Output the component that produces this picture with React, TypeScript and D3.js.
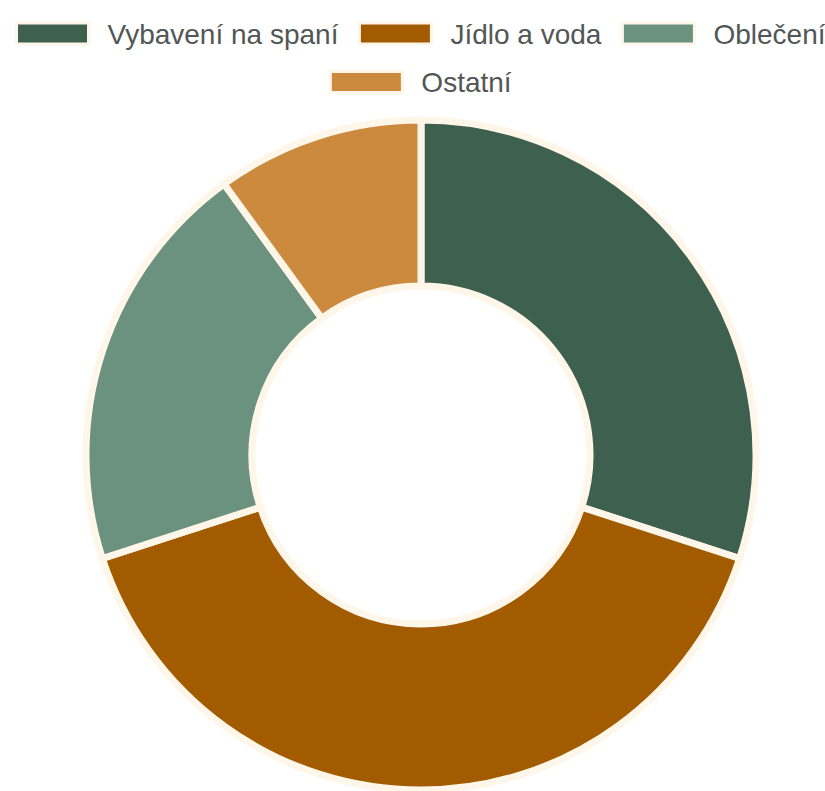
import { useEffect, useRef } from 'react';
import * as d3 from 'd3';

const categories = ['Vybavení na spaní', 'Jídlo a voda', 'Oblečení', 'Ostatní'];
const values = [30, 40, 20, 10];
const colors = ['#3e604f', '#a35b00', '#6b917f', '#cb8a3d'];
const legendRows = [[0, 1, 2], [3]];

const App: React.FC = () => {
  const svgRef = useRef<SVGSVGElement>(null);

  const width = 825;
  const height = 791;
  const cx = 421;
  const cy = 455;
  const outer = 335;
  const inner = 169;
  const border = '#fff6ea';

  useEffect(() => {
    if (!svgRef.current) return;
    const svg = d3.select(svgRef.current);
    svg.selectAll('*').remove();

    // doughnut
    const pie = d3.pie<number>().sort(null).value(d => d);
    const arc = d3.arc<d3.PieArcDatum<number>>().innerRadius(inner).outerRadius(outer);

    svg.append('g')
      .attr('transform', `translate(${cx},${cy})`)
      .selectAll('path')
      .data(pie(values))
      .enter()
      .append('path')
      .attr('d', arc)
      .attr('fill', (d, i) => colors[i])
      .attr('stroke', border)
      .attr('stroke-width', 7)
      .attr('stroke-linejoin', 'round');

    // legend
    const boxW = 72;
    const boxH = 21;
    const boxGap = 19;
    const itemGap = 21;
    const rowY = [33.5, 82];

    const legend = svg.append('g').style('font-family', '"Liberation Sans", Arial, sans-serif');

    legendRows.forEach((row, r) => {
      const items = row.map(i => {
        const g = legend.append('g');
        g.append('rect')
          .attr('width', boxW)
          .attr('height', boxH)
          .attr('y', -boxH / 2)
          .attr('fill', colors[i])
          .attr('stroke', border)
          .attr('stroke-width', 3);
        const t = g.append('text')
          .attr('x', boxW + boxGap)
          .attr('dy', '0.36em')
          .style('font-size', '28px')
          .attr('fill', '#525755')
          .text(categories[i]);
        const tw = (t.node() as SVGTextElement).getComputedTextLength();
        return { g, w: boxW + boxGap + tw };
      });
      const total = d3.sum(items, d => d.w) + itemGap * (items.length - 1);
      let x = cx - total / 2;
      items.forEach(it => {
        it.g.attr('transform', `translate(${x},${rowY[r]})`);
        x += it.w + itemGap;
      });
    });
  }, []);

  return (
    <svg
      ref={svgRef}
      width={width}
      height={height}
      style={{ position: 'absolute', left: 0, top: 0, background: '#ffffff' }}
    />
  );
};

export default App;
